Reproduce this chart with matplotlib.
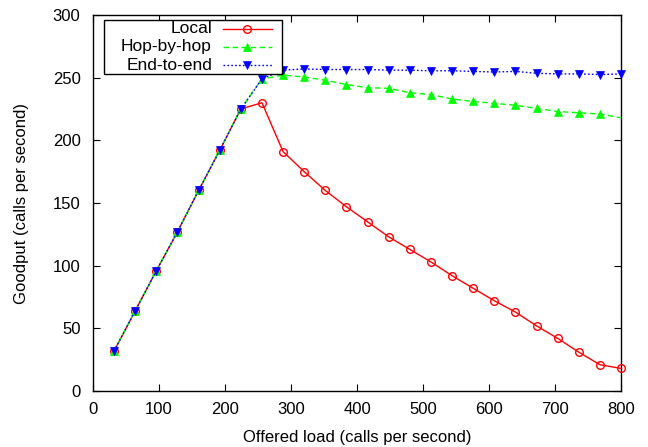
import numpy as np
import matplotlib.pyplot as plt
from matplotlib.lines import Line2D
from matplotlib.patches import Rectangle

plt.rcParams['font.family'] = ['Liberation Sans', 'DejaVu Sans']

# offered load (calls per second)
load = [32, 64, 96, 128, 160, 192, 224, 256, 288, 320, 352, 384, 416,
        448, 480, 512, 544, 576, 608, 640, 672, 704, 736, 768, 800]

# goodput (calls per second)
local = [32, 64, 96, 127, 160, 192, 225, 230, 191, 175, 160, 147, 135,
         123, 113, 103, 92, 82, 72, 63, 52, 42, 31, 21, 18]
hop_by_hop = [32, 64, 96, 127, 160, 192, 225, 249, 252, 250.5, 248, 244.5, 242,
              241.5, 238, 236.5, 233, 231, 229.5, 228, 225.5, 223, 222, 221, 218]
end_to_end = [32, 64, 96, 127, 160, 192, 225, 249, 256, 257, 256.5, 256.5, 256.5,
              256, 256, 255.5, 255.5, 255, 254.5, 255, 253.5, 253, 253, 252.5, 253]

xticks = [0, 100, 200, 300, 400, 500, 600, 700, 800]
yticks = [0, 50, 100, 150, 200, 250, 300]

n = len(load)
series = [
    ('Local', local, '#ff0000', '-',
     dict(marker='o', mfc='none', ms=5.5, mew=1.0), None),
    ('Hop-by-hop', hop_by_hop, '#00ff00', (0, (4, 2.5)),
     dict(marker='^', ms=5.5, mew=0.5), list(range(n - 1))),
    ('End-to-end', end_to_end, '#0000ff', (0, (1.2, 1.6)),
     dict(marker='v', ms=5.5, mew=0.5), None),
]

fig = plt.figure(figsize=(6.48, 4.47), dpi=100)
ax = fig.add_axes([93 / 648, 1 - 391 / 447, 528 / 648, 376 / 447])

for name, vals, color, ls, mk, every in series:
    ax.plot(load, vals, color=color, linestyle=ls, linewidth=1.0,
            mec=color, markevery=every, clip_on=False, zorder=3, **mk)

ax.set_xlim(0, 800)
ax.set_ylim(0, 300)
ax.set_xticks(xticks)
ax.set_yticks(yticks)
ax.tick_params(direction='in', top=True, right=True, length=5, width=0.8,
               labelsize=12)
ax.tick_params(axis='x', pad=8)
ax.tick_params(axis='y', pad=9)
for sp in ax.spines.values():
    sp.set_linewidth(1.0)
ax.set_xlabel('Offered load (calls per second)', fontsize=12, labelpad=9)
ax.set_ylabel('Goodput (calls per second)', fontsize=12, labelpad=17)

# key box in the top-left corner, gnuplot style
x0 = (104 - 93) / 528
ax.add_patch(Rectangle((x0, 0.8431), (282 - 104) / 528, 0.1436,
                       transform=ax.transAxes, facecolor='white',
                       edgecolor='black', linewidth=1.0, zorder=5))
rows = [0.9628, 0.9149, 0.8670]
for (name, vals, color, ls, mk, every), yy in zip(series, rows):
    ax.text((212 - 93) / 528, yy, name, transform=ax.transAxes, ha='right',
            va='center', fontsize=12.5, zorder=6)
    ax.add_line(Line2D([(223 - 93) / 528, (272 - 93) / 528], [yy, yy],
                       transform=ax.transAxes, color=color, linestyle=ls,
                       linewidth=1.0, zorder=6))
    ax.add_line(Line2D([(247 - 93) / 528], [yy], transform=ax.transAxes,
                       color=color, linestyle='none', mec=color, zorder=6, **mk))

fig.savefig('out.png', dpi=100)
